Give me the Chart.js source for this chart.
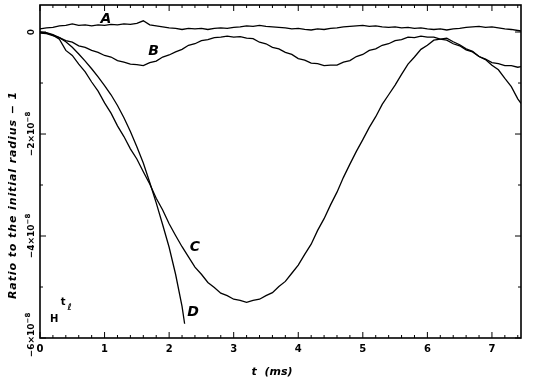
<!DOCTYPE html>
<html><head><meta charset="utf-8">
<script src="https://cdn.jsdelivr.net/npm/chart.js@4"></script>
<style>html,body{margin:0;padding:0;background:#fff}#wrap{width:534px;height:382px;position:relative}</style>
</head><body><div id="wrap"><canvas id="c"></canvas></div>
<script>
// time grid (ms) shared by curves A, B, C
const tGrid = [0,0.1,0.2,0.3,0.4,0.5,0.6,0.7,0.8,0.9,1.0,1.1,1.2,1.3,1.4,1.5,1.6,1.7,1.8,1.9,2.0,2.1,2.2,2.3,2.4,2.5,2.6,2.7,2.8,2.9,3.0,3.1,3.2,3.3,3.4,3.5,3.6,3.7,3.8,3.9,4.0,4.1,4.2,4.3,4.4,4.5,4.6,4.7,4.8,4.9,5.0,5.1,5.2,5.3,5.4,5.5,5.6,5.7,5.8,5.9,6.0,6.1,6.2,6.3,6.4,6.5,6.6,6.7,6.8,6.9,7.0,7.1,7.2,7.3,7.4,7.45];
// values in units of 1e-8
const curveA = [0.06,0.08,0.09,0.12,0.13,0.16,0.13,0.14,0.12,0.14,0.13,0.15,0.14,0.16,0.15,0.17,0.22,0.14,0.12,0.10,0.08,0.07,0.05,0.07,0.06,0.07,0.05,0.07,0.08,0.07,0.09,0.10,0.12,0.11,0.13,0.11,0.10,0.09,0.08,0.06,0.07,0.05,0.04,0.06,0.05,0.07,0.08,0.10,0.11,0.12,0.13,0.11,0.12,0.10,0.09,0.10,0.08,0.09,0.07,0.08,0.06,0.05,0.06,0.04,0.06,0.07,0.09,0.10,0.11,0.09,0.10,0.08,0.06,0.05,0.03,0.02];
const curveB = [-0.02,-0.03,-0.07,-0.11,-0.17,-0.20,-0.27,-0.30,-0.36,-0.40,-0.46,-0.49,-0.56,-0.59,-0.63,-0.64,-0.66,-0.60,-0.57,-0.49,-0.45,-0.39,-0.34,-0.26,-0.23,-0.17,-0.15,-0.11,-0.10,-0.08,-0.10,-0.09,-0.12,-0.13,-0.20,-0.23,-0.30,-0.33,-0.40,-0.44,-0.52,-0.55,-0.61,-0.62,-0.66,-0.65,-0.65,-0.59,-0.56,-0.48,-0.44,-0.36,-0.33,-0.26,-0.23,-0.17,-0.15,-0.10,-0.11,-0.08,-0.10,-0.10,-0.14,-0.16,-0.23,-0.27,-0.35,-0.39,-0.48,-0.53,-0.60,-0.62,-0.66,-0.66,-0.69,-0.68];
const curveC = [0,-0.02,-0.06,-0.14,-0.36,-0.46,-0.63,-0.78,-0.98,-1.16,-1.39,-1.59,-1.84,-2.05,-2.29,-2.49,-2.74,-2.98,-3.26,-3.49,-3.76,-3.99,-4.21,-4.41,-4.61,-4.75,-4.91,-5.01,-5.12,-5.17,-5.24,-5.26,-5.30,-5.26,-5.24,-5.17,-5.11,-4.99,-4.89,-4.73,-4.57,-4.36,-4.16,-3.89,-3.66,-3.39,-3.14,-2.85,-2.59,-2.34,-2.11,-1.87,-1.66,-1.42,-1.23,-1.04,-0.83,-0.63,-0.49,-0.34,-0.26,-0.16,-0.14,-0.12,-0.19,-0.25,-0.33,-0.38,-0.48,-0.54,-0.65,-0.74,-0.91,-1.07,-1.31,-1.40];
const tD = [0,0.1,0.2,0.3,0.4,0.5,0.6,0.7,0.8,0.9,1.0,1.1,1.2,1.3,1.4,1.5,1.6,1.7,1.8,1.9,2.0,2.1,2.2,2.24];
const curveD = [0,-0.01,-0.05,-0.11,-0.19,-0.30,-0.43,-0.57,-0.72,-0.88,-1.05,-1.23,-1.44,-1.68,-1.95,-2.25,-2.57,-2.95,-3.35,-3.78,-4.22,-4.75,-5.38,-5.72];

const xTicks = [0,1,2,3,4,5,6,7];
const yTicks = [0,-2,-4,-6];
const yMinorTicks = [-1,-3,-5];
const yTickMain = ['0','−2×10','−4×10','−6×10'];
const yTickSup = ['','−8','−8','−8'];
const seriesNames = ['A','B','C','D'];
const labelT = [1.02,1.76,2.40,2.37];
const labelV = [0.25,-0.37,-4.22,-5.49];
const xTitle = 't  (ms)';
const yTitle = 'Ratio to the initial radius − 1';

const pts = (ts, vs) => ts.map((t,i)=>({x:t,y:vs[i]}));
const lineStyle = {borderColor:'#000',borderWidth:1.3,pointRadius:0,tension:0,fill:false};

const deco = {
  id:'deco',
  afterDraw(chart){
    const ctx = chart.ctx, a = chart.chartArea, xs = chart.scales.x, ys = chart.scales.y;
    ctx.save();
    ctx.strokeStyle='#000'; ctx.fillStyle='#000';
    ctx.lineWidth=1.6;
    ctx.strokeRect(a.left,a.top,a.right-a.left,a.bottom-a.top);
    ctx.lineWidth=1;
    ctx.beginPath();
    for(let k=0;k<=37;k++){
      const v=k*0.2; if(v>xs.max) break;
      const px=xs.getPixelForValue(v);
      const major=Math.abs(v-Math.round(v))<1e-6;
      const L=major?6:3;
      ctx.moveTo(px,a.bottom); ctx.lineTo(px,a.bottom-L);
      ctx.moveTo(px,a.top); ctx.lineTo(px,a.top+L);
    }
    yTicks.forEach(v=>{const py=ys.getPixelForValue(v);ctx.moveTo(a.left,py);ctx.lineTo(a.left+6,py);ctx.moveTo(a.right,py);ctx.lineTo(a.right-6,py);});
    yMinorTicks.forEach(v=>{const py=ys.getPixelForValue(v);ctx.moveTo(a.left,py);ctx.lineTo(a.left+3,py);ctx.moveTo(a.right,py);ctx.lineTo(a.right-3,py);});
    ctx.stroke();
    // y tick labels (rotated)
    yTicks.forEach((v,i)=>{
      const py=ys.getPixelForValue(v) - (i===3?3:0);
      ctx.save(); ctx.translate(32,py); ctx.rotate(-Math.PI/2);
      ctx.font='bold 9px "DejaVu Sans"'; const w1=ctx.measureText(yTickMain[i]).width;
      ctx.font='bold 7px "DejaVu Sans"'; const w2=ctx.measureText(yTickSup[i]).width;
      const x0=-(w1+w2)/2;
      ctx.textBaseline='middle'; ctx.textAlign='left';
      ctx.font='bold 9px "DejaVu Sans"'; ctx.fillText(yTickMain[i],x0,0);
      ctx.font='bold 7px "DejaVu Sans"'; ctx.fillText(yTickSup[i],x0+w1,-4);
      ctx.restore();
    });
    // y title
    ctx.save(); ctx.translate(13,195); ctx.rotate(-Math.PI/2);
    ctx.font='bold italic 11px "DejaVu Sans"'; ctx.textAlign='center'; ctx.textBaseline='middle';
    try{ctx.letterSpacing='0.9px';}catch(e){}
    ctx.fillText(yTitle,0,0);
    try{ctx.letterSpacing='0px';}catch(e){}
    ctx.restore();
    // x title
    ctx.font='bold italic 11px "DejaVu Sans"'; ctx.textAlign='center'; ctx.textBaseline='middle';
    ctx.fillText(xTitle,272,372);
    // curve labels
    ctx.font='bold italic 14px "DejaVu Sans"';
    seriesNames.forEach((n,i)=>ctx.fillText(n,xs.getPixelForValue(labelT[i]),ys.getPixelForValue(labelV[i])));
    // small markers
    ctx.font='bold 10px "DejaVu Sans"';
    ctx.fillText('H',xs.getPixelForValue(0.22),ys.getPixelForValue(-5.63));
    ctx.fillText('t',xs.getPixelForValue(0.36),ys.getPixelForValue(-5.31));
    ctx.font='bold italic 9px "DejaVu Sans"';
    ctx.fillText('ℓ',xs.getPixelForValue(0.46),ys.getPixelForValue(-5.4));
    ctx.restore();
  }
};

new Chart(document.getElementById('c'),{
  type:'line',
  data:{datasets:[
    {label:'A',data:pts(tGrid,curveA),...lineStyle},
    {label:'B',data:pts(tGrid,curveB),...lineStyle},
    {label:'C',data:pts(tGrid,curveC),...lineStyle},
    {label:'D',data:pts(tD,curveD),...lineStyle}
  ]},
  options:{
    responsive:true,maintainAspectRatio:false,animation:false,
    layout:{padding:{top:5,right:13,left:0,bottom:0}},
    plugins:{legend:{display:false},tooltip:{enabled:false}},
    scales:{
      x:{type:'linear',min:0,max:7.45,
        afterBuildTicks:s=>{s.ticks=xTicks.map(v=>({value:v}));},
        afterFit:s=>{s.height=44;},
        grid:{display:false},border:{display:false},
        ticks:{color:'#000',font:{family:'DejaVu Sans',weight:'bold',size:10},padding:-3,maxRotation:0}},
      y:{type:'linear',min:-6,max:0.53,
        afterFit:s=>{s.width=40;},
        grid:{display:false},border:{display:false},
        ticks:{display:false}}
    }
  },
  plugins:[deco]
});
</script></body></html>
